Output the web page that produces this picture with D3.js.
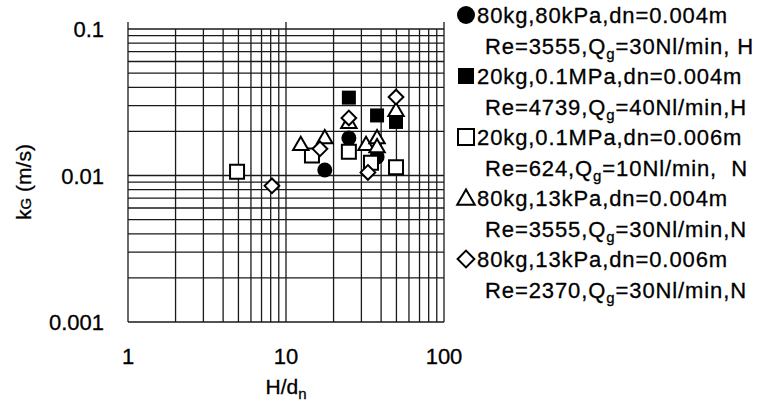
<!DOCTYPE html>
<html>
<head>
<meta charset="utf-8">
<script src="https://cdn.jsdelivr.net/npm/d3@7"></script>
<style>
	body { margin: 0; background: #fff; }
	svg { display: block; font-family: "Liberation Sans", Arial, sans-serif; }
	text { stroke: #000; stroke-width: 0.3px; }
</style>
</head>
<body>
<svg id="chart"></svg>
<script>
// H/dn and kG values, one pair of arrays per series
const hdFilledCircle = [17.6, 25, 37.7];
const kgFilledCircle = [0.0109, 0.0180, 0.0134];
const hdFilledSquare = [25, 37.7, 49.7];
const kgFilledSquare = [0.0340, 0.0257, 0.0232];
const hdOpenSquare = [4.9, 14.6, 25, 34.5, 49.7];
const kgOpenSquare = [0.0106, 0.0137, 0.0145, 0.0122, 0.0114];
const hdTriangle = [12.4, 17.6, 25, 32.1, 37.7, 37.7, 49.7];
const kgTriangle = [0.0164, 0.0182, 0.0232, 0.0164, 0.0182, 0.0158, 0.0280];
const hdDiamond = [8.15, 16.4, 25, 33, 49.7];
const kgDiamond = [0.0085, 0.0152, 0.0247, 0.0105, 0.0343];

const xTickLabels = ['1', '10', '100'];
const yTickLabels = ['0.001', '0.01', '0.1'];

const legendFirstLines = [
	'80kg,80kPa,dn=0.004m',
	'20kg,0.1MPa,dn=0.004m',
	'20kg,0.1MPa,dn=0.006m',
	'80kg,13kPa,dn=0.004m',
	'80kg,13kPa,dn=0.006m'
];
// second line is split around the subscript g of Qg
const legendSecondLines = [
	['Re=3555,Q', 'g', '=30Nl/min, H'],
	['Re=4739,Q', 'g', '=40Nl/min,H'],
	['Re=624,Q', 'g', '=10Nl/min,  N'],
	['Re=3555,Q', 'g', '=30Nl/min,N'],
	['Re=2370,Q', 'g', '=30Nl/min,N']
];

const series = [
	{ shape: 'circle', fill: '#000', xs: hdFilledCircle, ys: kgFilledCircle },
	{ shape: 'square', fill: '#000', xs: hdFilledSquare, ys: kgFilledSquare },
	{ shape: 'square', fill: '#fff', xs: hdOpenSquare, ys: kgOpenSquare },
	{ shape: 'triangle', fill: '#fff', xs: hdTriangle, ys: kgTriangle },
	{ shape: 'diamond', fill: '#fff', xs: hdDiamond, ys: kgDiamond }
];

const width = 764, height = 407;
const margin = { top: 29, left: 128 };
const plotW = 316, plotH = 293;

const svg = d3.select('#chart')
	.attr('width', width)
	.attr('height', height);

const xScale = d3.scaleLog().domain([1, 100]).range([margin.left, margin.left + plotW]);
const yScale = d3.scaleLog().domain([0.001, 0.1]).range([margin.top + plotH, margin.top]);

// full log grid, every 1..9 of each decade
const grid = svg.append('g')
	.attr('stroke', '#1a1a1a')
	.attr('stroke-width', 1.3);

grid.selectAll('.vline')
	.data(xScale.ticks())
	.join('line')
	.attr('class', 'vline')
	.attr('x1', d => xScale(d))
	.attr('x2', d => xScale(d))
	.attr('y1', d => Math.abs(Math.log10(d) % 1) < 1e-9 ? margin.top - 7 : margin.top)
	.attr('y2', margin.top + plotH);

grid.selectAll('.hline')
	.data(yScale.ticks())
	.join('line')
	.attr('class', 'hline')
	.attr('x1', margin.left)
	.attr('x2', margin.left + plotW)
	.attr('y1', d => yScale(d))
	.attr('y2', d => yScale(d));

// tick labels
svg.selectAll('.xtick')
	.data(xTickLabels)
	.join('text')
	.attr('class', 'xtick')
	.attr('x', d => xScale(+d))
	.attr('y', 364)
	.attr('text-anchor', 'middle')
	.attr('font-size', 22)
	.text(d => d);

svg.selectAll('.ytick')
	.data(yTickLabels)
	.join('text')
	.attr('class', 'ytick')
	.attr('x', 104)
	.attr('y', d => yScale(+d) + 8)
	.attr('text-anchor', 'end')
	.attr('font-size', 22)
	.text(d => d);

// axis titles
const xTitle = svg.append('text')
	.attr('x', 286)
	.attr('y', 394)
	.attr('text-anchor', 'middle')
	.attr('font-size', 21);
xTitle.append('tspan').text('H/d');
xTitle.append('tspan').attr('font-size', 15).attr('dy', 5).text('n');

const yTitle = svg.append('text')
	.attr('transform', 'translate(31,182) rotate(-90)')
	.attr('text-anchor', 'middle')
	.attr('font-size', 21);
yTitle.append('tspan').text('k');
yTitle.append('tspan').attr('font-size', 15).text('G');
yTitle.append('tspan').text(' (m/s)');

// marker paths centred on (0,0)
function markerPath(shape, s) {
	const h = s / 2;
	if (shape === 'square') return `M${-h},${-h}H${h}V${h}H${-h}Z`;
	if (shape === 'triangle') return `M0,${-h * 1.05}L${h * 1.1},${h * 0.85}H${-h * 1.1}Z`;
	if (shape === 'diamond') return `M0,${-h * 1.05}L${h * 1.05},0L0,${h * 1.05}L${-h * 1.05},0Z`;
	return null;
}

function drawMarker(g, shape, fill, size) {
	if (shape === 'circle') {
		g.append('circle').attr('r', size / 2).attr('fill', fill);
	} else {
		g.append('path')
			.attr('d', markerPath(shape, size))
			.attr('fill', fill)
			.attr('stroke', '#000')
			.attr('stroke-width', fill === '#000' ? 0 : 2)
			.attr('stroke-linejoin', 'miter');
	}
}

const points = svg.append('g');
series.forEach(s => {
	s.xs.forEach((xv, i) => {
		const g = points.append('g')
			.attr('transform', `translate(${xScale(xv)},${yScale(s.ys[i])})`);
		drawMarker(g, s.shape, s.fill, s.shape === 'circle' ? 15 : 14);
	});
});

// legend
const legend = svg.append('g');
const rowGap = 30.5;
series.forEach((s, i) => {
	const y0 = 15 + i * 2 * rowGap;
	const mg = legend.append('g').attr('transform', `translate(466,${y0})`);
	drawMarker(mg, s.shape, s.fill, s.shape === 'circle' ? 18 : 16);

	legend.append('text')
		.attr('x', 477)
		.attr('y', y0 + 8)
		.attr('font-size', 22)
		.attr('letter-spacing', 0.9)
		.text(legendFirstLines[i]);

	const t = legend.append('text')
		.attr('x', 485)
		.attr('y', y0 + rowGap + 8)
		.attr('font-size', 22)
		.attr('letter-spacing', 0.9)
		.attr('xml:space', 'preserve');
	t.append('tspan').text(legendSecondLines[i][0]);
	t.append('tspan').attr('font-size', 15).attr('dy', 5).text(legendSecondLines[i][1]);
	t.append('tspan').attr('dy', -5).text(legendSecondLines[i][2]);
});
</script>
</body>
</html>
